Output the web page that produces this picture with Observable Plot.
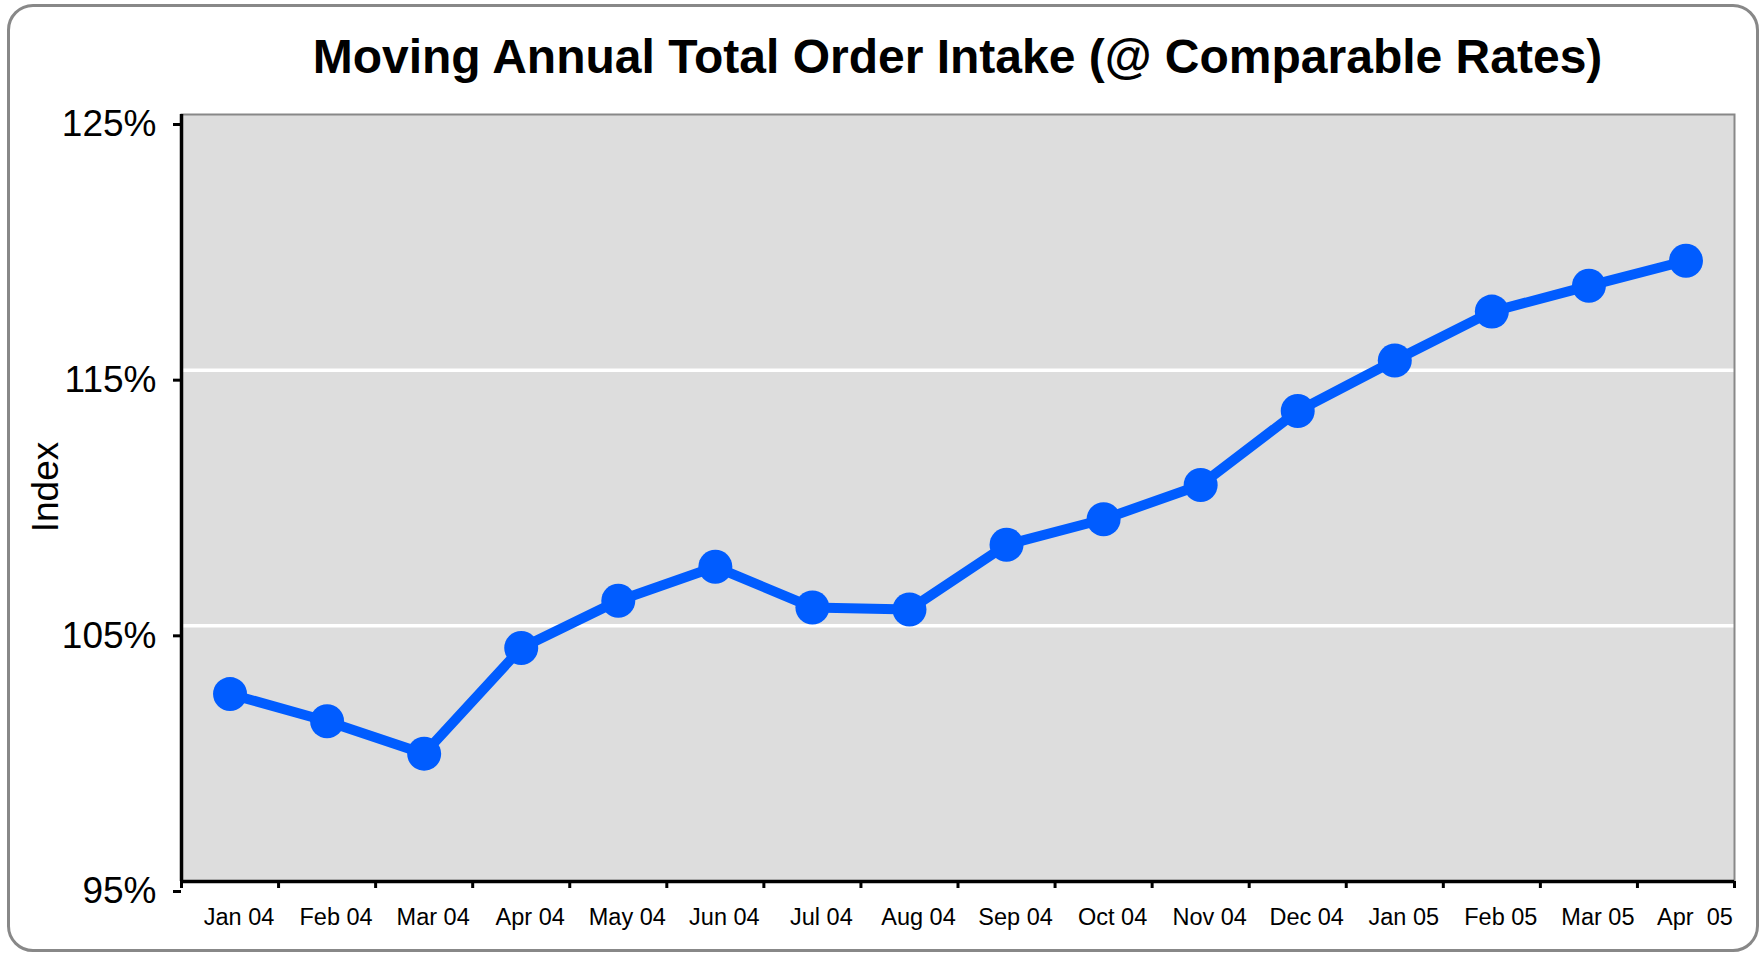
<!DOCTYPE html>
<html>
<head>
<meta charset="utf-8">
<script src="https://cdn.jsdelivr.net/npm/d3@7"></script>
<script src="https://cdn.jsdelivr.net/npm/@observablehq/plot@0.6"></script>
<style>
  body { margin: 0; background: #fff; font-family: "Liberation Sans", Arial, sans-serif; }
  #wrap { position: relative; width: 1764px; height: 953px; overflow: hidden; background: #fff; }
  #border { position: absolute; left: 7px; top: 4px; width: 1752px; height: 948px; box-sizing: border-box;
            border: 3px solid #888; border-radius: 26px; }
  #title { position: absolute; left: 181px; width: 1553px; top: 33px; margin: 0; text-align: center;
           font-weight: bold; font-size: 48px; line-height: 1; color: #000; }
  #chart { position: absolute; left: 0; top: 95px; }
  #chart g[aria-label="y-axis tick"], #chart g[aria-label="x-axis tick"] { stroke-width: 3px; stroke: #000; }
</style>
</head>
<body>
<div id="wrap">
  <div id="border"></div>
  <h1 id="title">Moving Annual Total Order Intake (@ Comparable Rates)</h1>
  <div id="chart"></div>
</div>
<script>
const months = ["Jan 04", "Feb 04", "Mar 04", "Apr 04", "May 04", "Jun 04", "Jul 04", "Aug 04",
                "Sep 04", "Oct 04", "Nov 04", "Dec 04", "Jan 05", "Feb 05", "Mar 05", "Apr \u00a005"];
const values = [102.33, 101.27, 100.0, 104.13, 105.98, 107.31, 105.72, 105.64,
                108.17, 109.17, 110.51, 113.4, 115.38, 117.29, 118.30, 119.28];
const yTicks = [95, 105, 115, 125];
const yLabel = "Index";

const data = months.map((m, i) => ({i, month: m, value: values[i]}));
const xDomain = [-0.5, months.length - 0.5];
const boundaries = d3.range(months.length + 1).map(k => k - 0.5);
const centers = d3.range(months.length);
const blue = "#005cff";

const chart = Plot.plot({
  width: 1764,
  height: 858,
  marginLeft: 181,
  marginRight: 30,
  marginTop: 19,
  marginBottom: 72,
  style: {fontFamily: "'Liberation Sans', Arial, sans-serif", color: "#000", background: "transparent", overflow: "visible"},
  x: {type: "linear", domain: xDomain},
  y: {domain: [yTicks[0], yTicks[yTicks.length - 1]]},
  marks: [
    Plot.frame({fill: "#dddddd"}),
    Plot.ruleY(yTicks.slice(1, -1), {stroke: "#fff", strokeWidth: 3.5}),
    Plot.frame({stroke: "#888", strokeWidth: 2}),
    Plot.ruleX([xDomain[0]], {stroke: "#000", strokeWidth: 3.5}),
    Plot.ruleY([yTicks[0]], {stroke: "#000", strokeWidth: 3.5}),
    Plot.axisY({ticks: yTicks, tickSize: 8, tickPadding: 17, tickFormat: d => d + "%",
                fontSize: 37, dy: 10, label: null, strokeWidth: 3}),
    Plot.axisX({ticks: boundaries, tickSize: 7, tickFormat: () => "", strokeWidth: 3, label: null}),
    Plot.axisX({ticks: centers, tickSize: 0, tickPadding: 27, tickFormat: i => months[i],
                fontSize: 23.5, dx: 9, label: null}),
    Plot.text([yLabel], {frameAnchor: "left", textAnchor: "middle", dx: -135, dy: -11, rotate: -90,
                         fontSize: 37, fill: "#000"}),
    Plot.line(data, {x: "i", y: "value", stroke: blue, strokeWidth: 10, strokeLinejoin: "round"}),
    Plot.dot(data, {x: "i", y: "value", r: 17, fill: blue, stroke: "none"})
  ]
});
document.getElementById("chart").appendChild(chart);
</script>
</body>
</html>
